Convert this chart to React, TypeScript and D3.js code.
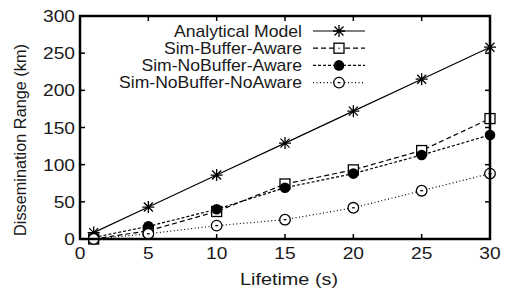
import React, { useRef, useEffect } from 'react';
import * as d3 from 'd3';

const lifetimes = [1, 5, 10, 15, 20, 25, 30];
const analyticalModel = [8.6, 43, 86, 129, 172, 215, 258];
const simBufferAware = [0, 11, 37, 74, 93, 119, 162];
const simNoBufferAware = [2, 17, 40, 69, 88, 113, 140];
const simNoBufferNoAware = [0, 7, 18, 26, 42, 65, 88];
const xTicks = [0, 5, 10, 15, 20, 25, 30];
const yTicks = [0, 50, 100, 150, 200, 250, 300];
const seriesNames = ['Analytical Model', 'Sim-Buffer-Aware', 'Sim-NoBuffer-Aware', 'Sim-NoBuffer-NoAware'];

const W = 505;
const H = 292;
const FONT = '"Liberation Sans", Arial, Helvetica, sans-serif';
const SX = 1.2; // horizontal stretch of the original picture's text

type Marker = 'star' | 'box' | 'dot' | 'circle';

export default function App() {
  const ref = useRef<SVGSVGElement>(null);

  useEffect(() => {
    if (!ref.current) return;
    const svg = d3.select(ref.current);
    svg.selectAll('*').remove();

    const left = 80, right = 490, top = 16, bottom = 239;
    const x = d3.scaleLinear().domain([0, 30]).range([left, right]);
    const y = d3.scaleLinear().domain([0, 300]).range([bottom, top]);

    const series = [
      { name: seriesNames[0], values: analyticalModel, dash: null, marker: 'star' as Marker },
      { name: seriesNames[1], values: simBufferAware, dash: '5,3', marker: 'box' as Marker },
      { name: seriesNames[2], values: simNoBufferAware, dash: '3,2', marker: 'dot' as Marker },
      { name: seriesNames[3], values: simNoBufferNoAware, dash: '1,2.5', marker: 'circle' as Marker },
    ];

    const drawMarker = (g: any, m: Marker, cx: number, cy: number) => {
      if (m === 'star') {
        const r = 6;
        const d = 4.5;
        g.append('path')
          .attr('d', `M${cx - r},${cy}H${cx + r}M${cx},${cy - r}V${cy + r}M${cx - d},${cy - d}L${cx + d},${cy + d}M${cx - d},${cy + d}L${cx + d},${cy - d}`)
          .attr('stroke', '#000').attr('stroke-width', 1.3).attr('fill', 'none');
      } else if (m === 'box') {
        g.append('rect').attr('x', cx - 5).attr('y', cy - 5).attr('width', 10).attr('height', 10)
          .attr('fill', '#fff').attr('stroke', '#000').attr('stroke-width', 1.3);
        g.append('rect').attr('x', cx - 0.6).attr('y', cy - 0.6).attr('width', 1.2).attr('height', 1.2).attr('fill', '#000');
      } else if (m === 'dot') {
        g.append('circle').attr('cx', cx).attr('cy', cy).attr('r', 5.3).attr('fill', '#000');
      } else {
        g.append('circle').attr('cx', cx).attr('cy', cy).attr('r', 5.3)
          .attr('fill', '#fff').attr('stroke', '#000').attr('stroke-width', 1.3);
        g.append('rect').attr('x', cx - 1.5).attr('y', cy - 0.6).attr('width', 3).attr('height', 1.2).attr('fill', '#000');
      }
    };

    // ticks (mirrored, inward)
    const tickLen = 5;
    const ticks = svg.append('g').attr('stroke', '#000').attr('stroke-width', 1.5);
    xTicks.forEach((t) => {
      ticks.append('line').attr('x1', x(t)).attr('x2', x(t)).attr('y1', bottom).attr('y2', bottom - tickLen);
      ticks.append('line').attr('x1', x(t)).attr('x2', x(t)).attr('y1', top).attr('y2', top + tickLen);
    });
    yTicks.forEach((t) => {
      ticks.append('line').attr('x1', left).attr('x2', left + tickLen).attr('y1', y(t)).attr('y2', y(t));
      ticks.append('line').attr('x1', right).attr('x2', right - tickLen).attr('y1', y(t)).attr('y2', y(t));
    });

    // text helper
    const label = (tx: number, ty: number, text: string, anchor: string, sx = SX) =>
      svg.append('text')
        .attr('transform', `translate(${tx},${ty}) scale(${sx},1)`)
        .attr('text-anchor', anchor)
        .attr('font-family', FONT).attr('font-size', 16).attr('fill', '#1a1a1a')
        .text(text);

    xTicks.forEach((t) => label(x(t), 259, String(t), 'middle'));
    yTicks.forEach((t) => label(75, y(t) + 6, String(t), 'end'));

    label(289, 285, 'Lifetime (s)', 'middle', 1.24);
    svg.append('text')
      .attr('transform', `translate(25.5,140) rotate(-90)`)
      .attr('text-anchor', 'middle')
      .attr('font-family', FONT).attr('font-size', 16.3).attr('fill', '#1a1a1a')
      .text('Dissemination Range (km)');

    // series
    const line = d3.line<number>()
      .x((_, i) => x(lifetimes[i]))
      .y((v) => y(v));

    series.forEach((s) => {
      const g = svg.append('g');
      g.append('path')
        .attr('d', line(s.values))
        .attr('fill', 'none').attr('stroke', '#000').attr('stroke-width', 1.2)
        .attr('stroke-dasharray', s.dash);
      s.values.forEach((v, i) => drawMarker(g, s.marker, x(lifetimes[i]), y(v)));
    });

    // legend
    series.forEach((s, i) => {
      const cy = 31 + i * 17.2;
      label(302, cy + 5.8, s.name, 'end', 1.1);
      const g = svg.append('g');
      g.append('line').attr('x1', 313).attr('x2', 365).attr('y1', cy).attr('y2', cy)
        .attr('stroke', '#000').attr('stroke-width', 1.2).attr('stroke-dasharray', s.dash);
      drawMarker(g, s.marker, 339, cy);
    });

    // frame
    svg.append('rect')
      .attr('x', left).attr('y', top).attr('width', right - left).attr('height', bottom - top)
      .attr('fill', 'none').attr('stroke', '#000').attr('stroke-width', 2.5);
  }, []);

  return (
    <svg
      ref={ref}
      width={W}
      height={H}
      style={{ position: 'absolute', left: 0, top: 0, background: '#fff' }}
    />
  );
}
